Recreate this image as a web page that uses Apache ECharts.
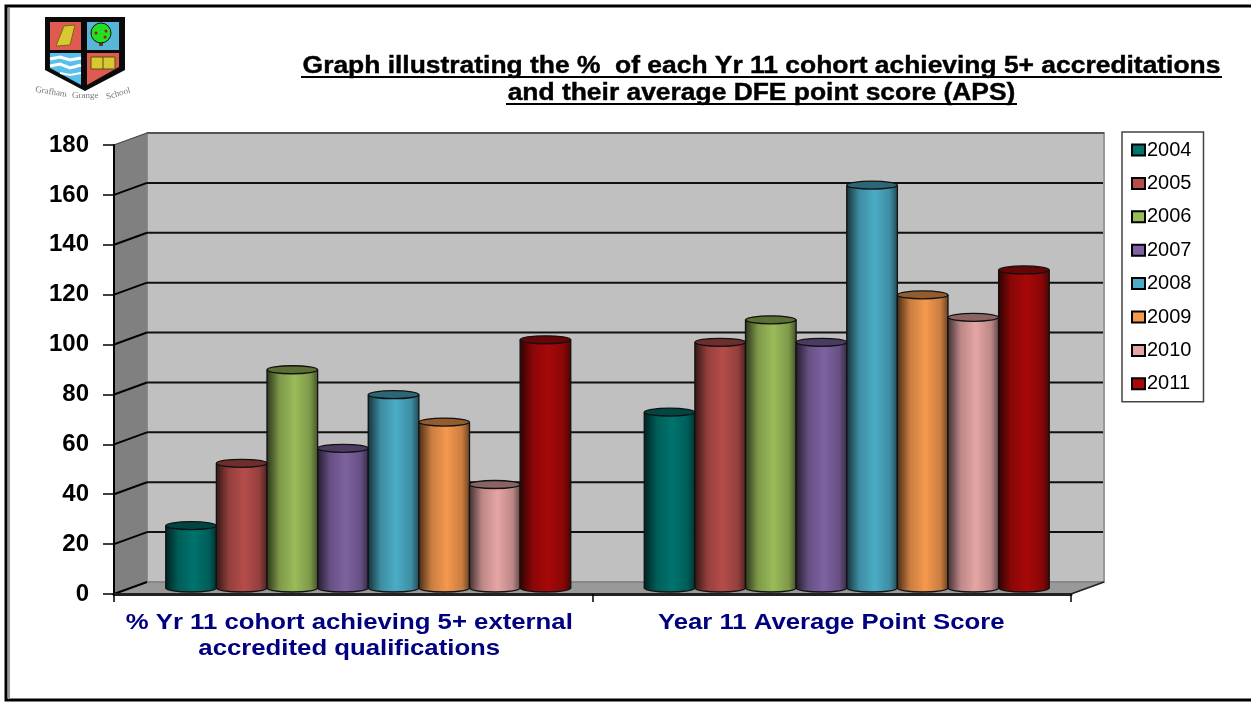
<!DOCTYPE html>
<html lang="en">
<head>
<meta charset="UTF-8">
<title>Yr 11 cohort chart</title>
<style>
    * { margin: 0; padding: 0; }
    html, body { width: 100%; height: 100%; background: #fff; overflow: hidden; }
    #chart { width: 1251px; height: 702px; }
</style>
</head>
<body>
<div id="chart"></div>
<script src="https://cdn.jsdelivr.net/npm/echarts@6/dist/echarts.min.js"></script>
<script>
var categories = ['% Yr 11 cohort achieving 5+ external\naccredited qualifications', 'Year 11 Average Point Score'];
var years = ['2004', '2005', '2006', '2007', '2008', '2009', '2010', '2011'];
var cohortPct = [25, 50, 87.5, 56, 77.5, 66.5, 41.5, 99.5];
var avgPointScore = [70.5, 98.5, 107.5, 98.5, 161.5, 117.5, 108.5, 127.5];
var yTicks = [0, 20, 40, 60, 80, 100, 120, 140, 160, 180];
var colors = ['#00736D', '#B54D4A', '#9ABB59', '#7E62A1', '#4BACC6', '#F5994E', '#E6A5A5', '#A80808'];
var titleLines = ['Graph illustrating the %  of each Yr 11 cohort achieving 5+ accreditations', 'and their average DFE point score (APS)'];

var font = '"Liberation Sans", Arial, sans-serif';
// fake 3d: back wall is shifted from the front axes, bars stand half way
var wallDx = 33, wallDy = -12;
var barDx = 15, barDy = -6;
var barRatio = 0.1058;
var capRy = 4;

var chart = echarts.init(document.getElementById('chart'));

function shade(hex, k) {
    var n = parseInt(hex.slice(1), 16);
    var r = Math.round((n >> 16) * k);
    var g = Math.round(((n >> 8) & 255) * k);
    var b = Math.round((n & 255) * k);
    return 'rgb(' + r + ',' + g + ',' + b + ')';
}

function renderWalls(params, api) {
    var c = params.coordSys;
    var x0 = c.x, x1 = c.x + c.width, y0 = c.y, y1 = c.y + c.height;
    return {
        type: 'group',
        silent: true,
        children: [
            {type: 'rect', shape: {x: x0 + wallDx, y: y0 + wallDy, width: c.width, height: c.height},
                style: {fill: '#C0C0C0', stroke: '#999', lineWidth: 2}},
            {type: 'line', shape: {x1: x0 + wallDx, y1: y0 + wallDy, x2: x1 + wallDx, y2: y0 + wallDy},
                style: {stroke: '#555', lineWidth: 2}},
            {type: 'polygon', shape: {points: [[x0, y0], [x0 + wallDx, y0 + wallDy], [x0 + wallDx, y1 + wallDy], [x0, y1]]},
                style: {fill: '#808080', stroke: '#808080'}},
            {type: 'polygon', shape: {points: [[x0, y1], [x0 + wallDx, y1 + wallDy], [x1 + wallDx, y1 + wallDy], [x1, y1]]},
                style: {fill: '#999999', stroke: '#777', lineWidth: 1}},
            {type: 'line', shape: {x1: x1, y1: y1, x2: x1 + wallDx, y2: y1 + wallDy},
                style: {stroke: '#222', lineWidth: 1.5}}
        ]
    };
}

function renderGridline(params, api) {
    var c = params.coordSys;
    var v = api.value(0);
    var y = api.coord([0, v])[1];
    var top = v === 180;
    var color = top ? '#444' : '#000';
    var w = top ? 1 : 2;
    var kids = [
        {type: 'line', shape: {x1: c.x, y1: y, x2: c.x + wallDx, y2: y + wallDy}, style: {stroke: color, lineWidth: w}}
    ];
    if (v > 0 && !top) {
        kids.push({type: 'line', shape: {x1: c.x + wallDx, y1: y + wallDy, x2: c.x + c.width + wallDx - 1, y2: y + wallDy},
            style: {stroke: '#111', lineWidth: 2}});
    }
    return {type: 'group', silent: true, children: kids};
}

// stretched like the original, the axis label option cant do that
function renderCategoryLabel(params, api) {
    var i = api.value(0);
    var p = api.coord([i, 0]);
    return {
        type: 'text',
        silent: true,
        x: p[0] + (i === 0 ? -4 : -0.5),
        y: p[1] + 16,
        scaleX: 1.17,
        style: {
            text: categories[i],
            font: 'bold 22px ' + font,
            lineHeight: 26,
            fill: '#000080',
            textAlign: 'center',
            textVerticalAlign: 'top'
        }
    };
}

function makeCylinder(yearIndex) {
    return function (params, api) {
        var cat = api.value(0);
        var band = api.size([1, 0])[0];
        var w = band * barRatio;
        var top = api.coord([cat, api.value(1)]);
        var bottom = api.coord([cat, 0]);
        var left = top[0] + barDx + (yearIndex - 4) * w;
        var yTop = top[1] + barDy;
        var yBot = bottom[1] + barDy;
        var base = colors[yearIndex];
        var body = new echarts.graphic.LinearGradient(0, 0, 1, 0, [
            {offset: 0, color: shade(base, 0.3)},
            {offset: 0.25, color: shade(base, 0.82)},
            {offset: 0.55, color: base},
            {offset: 0.85, color: shade(base, 0.82)},
            {offset: 1, color: shade(base, 0.45)}
        ]);
        var rx = w / 2;
        return {
            type: 'group',
            children: [
                {type: 'ellipse', shape: {cx: left + rx, cy: yBot, rx: rx, ry: capRy},
                    style: {fill: body, stroke: '#111', lineWidth: 1.3}},
                {type: 'rect', shape: {x: left, y: yTop, width: w, height: yBot - yTop},
                    style: {fill: body}},
                {type: 'line', shape: {x1: left, y1: yTop, x2: left, y2: yBot}, style: {stroke: '#111', lineWidth: 1.3}},
                {type: 'line', shape: {x1: left + w, y1: yTop, x2: left + w, y2: yBot}, style: {stroke: '#111', lineWidth: 1.3}},
                {type: 'ellipse', shape: {cx: left + rx, cy: yTop, rx: rx, ry: capRy},
                    style: {fill: shade(base, 0.6), stroke: '#111', lineWidth: 1.3}}
            ]
        };
    };
}

var series = [
    {name: 'walls', type: 'custom', renderItem: renderWalls, data: [0], z: 1, silent: true,
        encode: {y: 0}, clip: false},
    {name: 'gridlines', type: 'custom', renderItem: renderGridline, data: yTicks.map(function (v) { return [v]; }),
        z: 2, silent: true, encode: {y: 0}, clip: false},
    {name: 'category labels', type: 'custom', renderItem: renderCategoryLabel, data: [[0], [1]],
        z: 2, silent: true, encode: {x: 0}, clip: false}
];
years.forEach(function (year, i) {
    series.push({
        name: year,
        type: 'custom',
        renderItem: makeCylinder(i),
        itemStyle: {color: colors[i]},
        data: [[0, cohortPct[i]], [1, avgPointScore[i]]],
        encode: {x: 0, y: 1},
        z: 3 + i,
        clip: false
    });
});

// crest, top left
var serif = '"Liberation Serif", serif';
var crest = [
    {type: 'polygon', shape: {points: [[45, 17], [125, 17], [125, 70], [85, 91], [45, 70]]}, style: {fill: '#0a0a0a'}},
    {type: 'rect', shape: {x: 50, y: 22, width: 31, height: 28}, style: {fill: '#DF5A50'}},
    {type: 'rect', shape: {x: 87, y: 22, width: 32, height: 28}, style: {fill: '#58B6D8'}},
    {type: 'polygon', shape: {points: [[50, 53], [81, 53], [81, 85], [50, 68]]}, style: {fill: '#58C0EA'}},
    {type: 'polygon', shape: {points: [[87, 53], [119, 53], [119, 67], [87, 85]]}, style: {fill: '#DF5A50'}},
    {type: 'polygon', shape: {points: [[64, 26], [75, 25], [70, 45], [56, 46]]}, style: {fill: '#D8C832', stroke: '#7a6a10', lineWidth: 1}},
    {type: 'rect', shape: {x: 99, y: 40, width: 4, height: 6}, style: {fill: '#6b3a12'}},
    {type: 'circle', shape: {cx: 101, cy: 33, r: 10}, style: {fill: '#22E022', stroke: '#111', lineWidth: 1}},
    {type: 'circle', shape: {cx: 96, cy: 33, r: 1.5}, style: {fill: '#a01818'}},
    {type: 'circle', shape: {cx: 106, cy: 31, r: 1.5}, style: {fill: '#a01818'}},
    {type: 'circle', shape: {cx: 105, cy: 37, r: 1.5}, style: {fill: '#a01818'}},
    {type: 'polygon', shape: {points: [[91, 57], [115, 57], [115, 69], [91, 69]]}, style: {fill: '#D8C832', stroke: '#55500f', lineWidth: 1}},
    {type: 'line', shape: {x1: 103, y1: 57, x2: 103, y2: 69}, style: {stroke: '#55500f', lineWidth: 1}},
    {type: 'polyline', shape: {points: [[50, 59], [60, 57], [70, 60], [81, 58]]}, style: {fill: 'none', stroke: '#fff', lineWidth: 3}},
    {type: 'polyline', shape: {points: [[50, 66], [60, 64], [70, 68], [81, 65]]}, style: {fill: 'none', stroke: '#fff', lineWidth: 3}},
    {type: 'polyline', shape: {points: [[60, 73], [70, 75], [81, 73]]}, style: {fill: 'none', stroke: '#fff', lineWidth: 2}},
    {type: 'text', x: 36, y: 85, rotation: -0.16, style: {text: 'Grafham', font: '9px ' + serif, fill: '#777'}},
    {type: 'text', x: 72, y: 91, style: {text: 'Grange', font: '9px ' + serif, fill: '#777'}},
    {type: 'text', x: 105, y: 93, rotation: 0.28, style: {text: 'School', font: '9px ' + serif, fill: '#777'}}
];

function titleText(text, y) {
    return {
        type: 'text',
        silent: true,
        x: 761.5,
        y: y,
        scaleX: 1.148,
        style: {text: text, font: 'bold 23px ' + font, fill: '#000', stroke: '#000', lineWidth: 0.4, textAlign: 'center', textVerticalAlign: 'middle'}
    };
}

var option = {
    animation: false,
    backgroundColor: '#fff',
    legend: {
        data: years,
        orient: 'vertical',
        left: 1122,
        top: 132,
        padding: [8, 12, 8, 9],
        backgroundColor: '#fff',
        borderColor: '#444',
        borderWidth: 1.5,
        borderRadius: 0,
        icon: 'rect',
        itemWidth: 13,
        itemHeight: 11,
        itemGap: 13.4,
        itemStyle: {borderColor: '#000', borderWidth: 2},
        selectedMode: false,
        textStyle: {color: '#000', fontFamily: font, fontSize: 20, padding: [0, 0, 0, -3]}
    },
    grid: {left: 114, top: 145, width: 957, height: 449, containLabel: false},
    xAxis: {
        type: 'category',
        data: categories,
        z: 20,
        axisLine: {show: true, lineStyle: {color: '#222', width: 3}},
        axisTick: {show: true, alignWithLabel: false, length: 8, lineStyle: {color: '#000', width: 1.5}},
        axisLabel: {show: false}
    },
    yAxis: {
        type: 'value',
        min: 0,
        max: 180,
        interval: 20,
        z: 20,
        splitLine: {show: false},
        axisLine: {show: true, lineStyle: {color: '#000', width: 2}},
        axisTick: {show: true, length: 11, lineStyle: {color: '#000', width: 1.5}},
        axisLabel: {color: '#000', fontFamily: font, fontWeight: 'bold', fontSize: 24, margin: 25, padding: [4, 0, 0, 0]}
    },
    graphic: [
        {type: 'rect', silent: true, shape: {x: 6, y: 6, width: 1300, height: 694}, style: {fill: 'none', stroke: '#000', lineWidth: 3}, z: 50},
        {type: 'line', silent: true, shape: {x1: 9, y1: 8, x2: 9, y2: 699}, style: {stroke: '#999', lineWidth: 2}, z: 50},
        titleText(titleLines[0], 67),
        titleText(titleLines[1], 94),
        // title underlines
        {type: 'line', silent: true, shape: {x1: 301, y1: 77, x2: 1222, y2: 77}, style: {stroke: '#000', lineWidth: 2}},
        {type: 'line', silent: true, shape: {x1: 506, y1: 104, x2: 1017, y2: 104}, style: {stroke: '#000', lineWidth: 2}},
        {type: 'group', silent: true, children: crest}
    ],
    series: series
};
chart.setOption(option);
</script>
</body>
</html>
